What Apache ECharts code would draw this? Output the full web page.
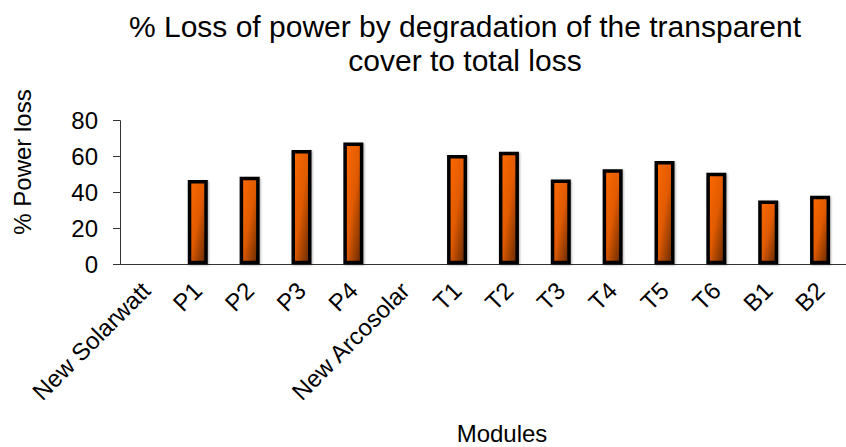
<!DOCTYPE html>
<html>
<head>
<meta charset="utf-8">
<script src="https://cdn.jsdelivr.net/npm/echarts@6/dist/echarts.min.js"></script>
<style>
  html, body { margin: 0; padding: 0; background: #fff; }
  #chart { width: 846px; height: 447px; }
</style>
</head>
<body>
<div id="chart"></div>
<script>
// Module names along the x axis
const modules = ['New Solarwatt', 'P1', 'P2', 'P3', 'P4', 'New Arcosolar',
  'T1', 'T2', 'T3', 'T4', 'T5', 'T6', 'B1', 'B2'];
// Share of power loss caused by cover degradation (%); new modules have none
const coverLoss = [null, 47, 48.8, 63.7, 67.9, null,
  60.9, 62.7, 47.3, 52.9, 57.5, 51, 35.6, 38.2];
// Value axis ticks
const yTicks = [0, 20, 40, 60, 80];

const font = 'Liberation Sans, Arial, sans-serif';
// SVG output keeps the bar gradient in each bar's own box (corner to corner)
const chart = echarts.init(document.getElementById('chart'), null, { renderer: 'svg' });

chart.setOption({
  animation: false,
  backgroundColor: '#fff',
  title: {
    text: '% Loss of power by degradation of the transparent\ncover to total loss',
    left: 460,
    top: 4,
    textAlign: 'center',
    textStyle: { fontFamily: font, fontSize: 30, fontWeight: 'normal', color: '#000', lineHeight: 34 }
  },
  grid: { left: 120, top: 120.7, bottom: 182.7, right: -3.4, containLabel: false },
  xAxis: {
    type: 'category',
    data: modules,
    axisLine: { lineStyle: { color: '#333', width: 1 } },
    axisTick: { length: 6, lineStyle: { color: '#333' } },
    axisLabel: { rotate: 45, interval: 0, margin: 22, color: '#000', fontFamily: font, fontSize: 24 }
  },
  yAxis: {
    type: 'value',
    min: yTicks[0],
    max: yTicks[yTicks.length - 1],
    interval: yTicks[1] - yTicks[0],
    splitLine: { show: false },
    axisLine: { show: true, lineStyle: { color: '#333', width: 1 } },
    axisTick: { show: true, length: 7, lineStyle: { color: '#333' } },
    axisLabel: { margin: 22, color: '#000', fontFamily: font, fontSize: 24 }
  },
  graphic: [
    {
      type: 'text',
      x: 22, y: 162,
      rotation: Math.PI / 2,
      style: { text: '% Power loss', fontFamily: font, fontSize: 24, fill: '#000', align: 'center', verticalAlign: 'middle' }
    },
    {
      type: 'text',
      x: 502, y: 433,
      style: { text: 'Modules', fontFamily: font, fontSize: 24, fill: '#000', align: 'center', verticalAlign: 'middle' }
    }
  ],
  series: [{
    type: 'bar',
    data: coverLoss,
    barWidth: 20,
    itemStyle: {
      color: new echarts.graphic.LinearGradient(0, 0, 1, 1, [
        { offset: 0, color: '#ff6a00' },
        { offset: 0.5, color: '#e05a00' },
        { offset: 1, color: '#5e2700' }
      ]),
      borderColor: '#000',
      borderWidth: 3.5,
      shadowColor: 'rgba(0,0,0,0.3)',
      shadowBlur: 2,
      shadowOffsetX: 1,
      shadowOffsetY: 1
    }
  }]
});
</script>
</body>
</html>
